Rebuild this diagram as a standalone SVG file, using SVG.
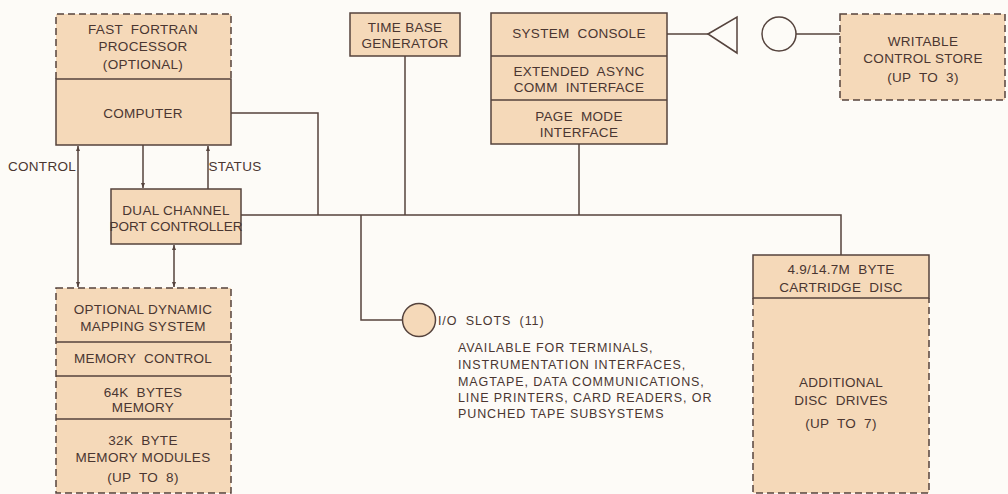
<svg xmlns="http://www.w3.org/2000/svg" width="1008" height="494" viewBox="0 0 1008 494">
<style>
.box{fill:#f5d9b9;stroke:none}
.ln{fill:none;stroke:#55433d;stroke-width:1.5}
.dash{fill:none;stroke:#55433d;stroke-width:1.5;stroke-dasharray:7,4}
.t{font-family:"Liberation Sans",Arial,sans-serif;font-size:13.5px;fill:#4a3631;text-anchor:middle;dominant-baseline:central;letter-spacing:0.3px}
.w{word-spacing:4px}
.s{font-family:"Liberation Sans",Arial,sans-serif;font-size:12.5px;fill:#4a3631;dominant-baseline:central;letter-spacing:0.9px}
</style>
<defs>
<marker id="ah" viewBox="0 0 10 10" refX="10" refY="5" markerWidth="5" markerHeight="7" orient="auto-start-reverse" markerUnits="userSpaceOnUse">
<path d="M0,1 L10,5 L0,9 z" fill="#55433d"/>
</marker>
</defs>
<rect width="1008" height="494" fill="#fdfbf7"/>

<g id="connectors">
<path class="ln" d="M231,113 H318 V215"/>
<path class="ln" d="M241,215 H841 V255"/>
<path class="ln" d="M405,56 V215"/>
<path class="ln" d="M579,144 V215"/>
<path class="ln" d="M361,215 V320 H403"/>
<path class="ln" d="M667,34 H708"/>
<path class="ln" d="M796,34 H840"/>
<line class="ln" x1="78" y1="146" x2="78" y2="287" marker-start="url(#ah)" marker-end="url(#ah)"/>
<line class="ln" x1="174" y1="245" x2="174" y2="287" marker-start="url(#ah)" marker-end="url(#ah)"/>
<line class="ln" x1="143" y1="145" x2="143" y2="188" marker-end="url(#ah)"/>
<line class="ln" x1="208" y1="189" x2="208" y2="146" marker-end="url(#ah)"/>
<text class="t" x="42" y="166">CONTROL</text>
<text class="t" x="235" y="166">STATUS</text>
</g>

<g id="computer">
<rect class="box" x="56" y="14" width="175" height="131"/>
<path class="dash" d="M56,79 V14 H231 V79"/>
<path class="ln" d="M56,79 H231 V145 H56 Z"/>
<text class="t w" x="143" y="29">FAST FORTRAN</text>
<text class="t" x="143" y="46">PROCESSOR</text>
<text class="t" x="143" y="64">(OPTIONAL)</text>
<text class="t" x="143" y="113">COMPUTER</text>
</g>

<g id="dcpc">
<rect class="box" x="111" y="189" width="130" height="55"/>
<rect class="ln" x="111" y="189" width="130" height="55"/>
<text class="t" x="176" y="210">DUAL CHANNEL</text>
<text class="t" x="176" y="226" style="letter-spacing:0">PORT CONTROLLER</text>
</g>

<g id="memory">
<rect class="box" x="56" y="288" width="175" height="205"/>
<rect class="dash" x="56" y="288" width="175" height="205"/>
<path class="ln" d="M56,342 H231 M56,376 H231 M56,419 H231"/>
<text class="t" x="143" y="309">OPTIONAL DYNAMIC</text>
<text class="t" x="143" y="326">MAPPING SYSTEM</text>
<text class="t w" x="143" y="358">MEMORY CONTROL</text>
<text class="t w" x="143" y="392">64K BYTES</text>
<text class="t" x="143" y="407">MEMORY</text>
<text class="t w" x="143" y="440">32K BYTE</text>
<text class="t" x="143" y="457">MEMORY MODULES</text>
<text class="t w" x="143" y="477">(UP TO 8)</text>
</g>

<g id="timebase">
<rect class="box" x="350" y="13" width="110" height="43"/>
<rect class="ln" x="350" y="13" width="110" height="43"/>
<text class="t" x="405" y="27">TIME BASE</text>
<text class="t" x="405" y="43">GENERATOR</text>
</g>

<g id="console">
<rect class="box" x="491" y="13" width="176" height="131"/>
<rect class="ln" x="491" y="13" width="176" height="131"/>
<path class="ln" d="M491,56 H667 M491,100 H667"/>
<text class="t w" x="579" y="33">SYSTEM CONSOLE</text>
<text class="t w" x="579" y="71">EXTENDED ASYNC</text>
<text class="t w" x="579" y="87">COMM INTERFACE</text>
<text class="t w" x="579" y="116">PAGE MODE</text>
<text class="t" x="579" y="132">INTERFACE</text>
</g>

<g id="connector-symbols">
<path class="ln" d="M708,34 L737,17 V53 Z"/>
<circle class="ln" cx="779" cy="34" r="17"/>
</g>

<g id="wcs">
<rect class="box" x="840" y="14" width="165" height="86"/>
<rect class="dash" x="840" y="14" width="165" height="86"/>
<text class="t" x="923" y="41">WRITABLE</text>
<text class="t" x="923" y="58">CONTROL STORE</text>
<text class="t w" x="923" y="77">(UP TO 3)</text>
</g>

<g id="ioslots">
<circle cx="419" cy="320" r="16.5" fill="#f5d9b9" stroke="#55433d" stroke-width="1.5"/>
<text class="s" x="438" y="321" style="word-spacing:4px">I/O SLOTS (11)</text>
<text class="s" x="458" y="348">AVAILABLE FOR TERMINALS,</text>
<text class="s" x="458" y="365">INSTRUMENTATION INTERFACES,</text>
<text class="s" x="458" y="382">MAGTAPE, DATA COMMUNICATIONS,</text>
<text class="s" x="458" y="398">LINE PRINTERS, CARD READERS, OR</text>
<text class="s" x="458" y="414">PUNCHED TAPE SUBSYSTEMS</text>
</g>

<g id="disc">
<rect class="box" x="753" y="255" width="176" height="238"/>
<path class="dash" d="M753,298 V493 H929 V298"/>
<rect class="ln" x="753" y="255" width="176" height="43"/>
<text class="t w" x="841" y="269">4.9/14.7M BYTE</text>
<text class="t w" x="841" y="287">CARTRIDGE DISC</text>
<text class="t" x="841" y="382">ADDITIONAL</text>
<text class="t w" x="841" y="400">DISC DRIVES</text>
<text class="t w" x="841" y="423">(UP TO 7)</text>
</g>
</svg>
